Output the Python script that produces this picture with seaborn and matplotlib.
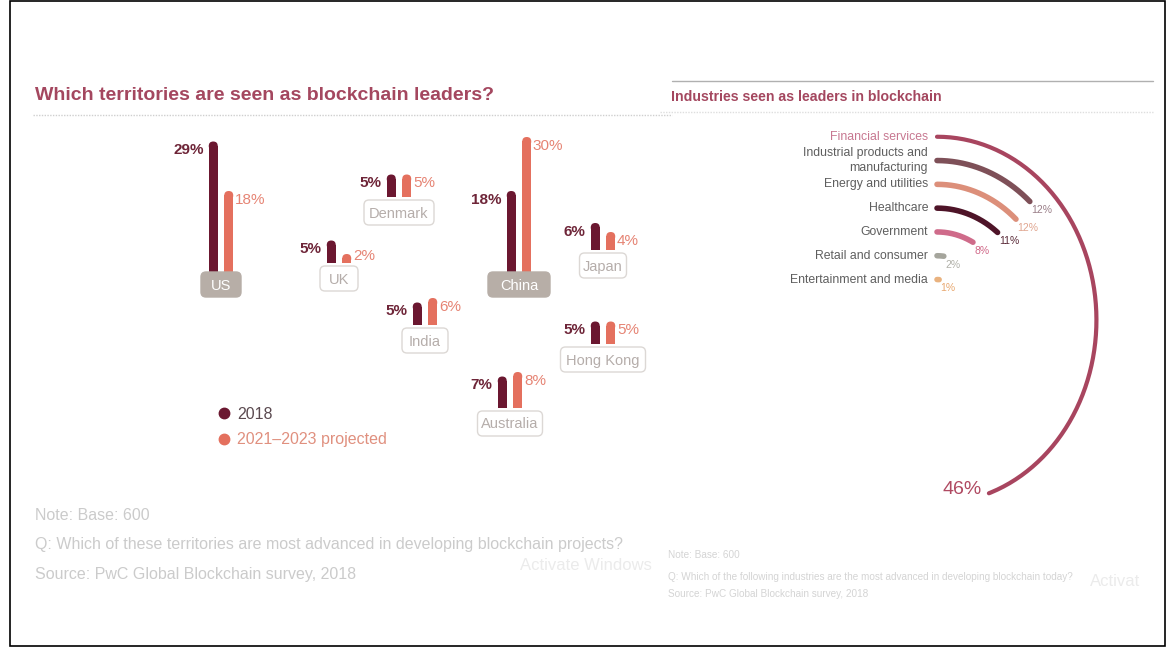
import matplotlib

matplotlib.use("Agg")
import matplotlib.pyplot as plt  # noqa: E402
import numpy as np  # noqa: E402
import pandas as pd  # noqa: E402
import seaborn as sns  # noqa: E402
from matplotlib.lines import Line2D  # noqa: E402
from matplotlib.patches import FancyBboxPatch, Rectangle  # noqa: E402

sns.set_theme(style="white")
plt.rcParams["font.family"] = ["Liberation Sans", "DejaVu Sans"]

# ---- data ---------------------------------------------------------------
territories = ["US", "Denmark", "UK", "China", "Japan", "India", "Hong Kong", "Australia"]
share_2018 = [29, 5, 5, 18, 6, 5, 5, 7]
share_projected = [18, 5, 2, 30, 4, 6, 5, 8]
series_labels = ["2018", "2021\u20132023 projected"]

industries = [
    "Financial services",
    "Industrial products and\nmanufacturing",
    "Energy and utilities",
    "Healthcare",
    "Government",
    "Retail and consumer",
    "Entertainment and media",
]
industry_share = [46, 12, 12, 11, 8, 2, 1]

# ---- layout / style (pixels, y measured from top) -------------------------
W, H = 1167, 648
PX_PER_PCT = 4.5
BAR_STEP = 15.5
BOX_H = 25
# centre x, bar baseline y, box width, filled box
territory_layout = {
    "US": (221, 272, 40, True),
    "Denmark": (399, 197, 70, False),
    "UK": (339, 263, 38, False),
    "China": (519, 272, 62, True),
    "Japan": (603, 250, 47, False),
    "India": (425, 325, 46, False),
    "Hong Kong": (603, 344, 85, False),
    "Australia": (510, 408, 65, False),
}
bar_colors = ["#6b1730", "#e4705e"]
value_colors = ["#6e2538", "#e68474"]
title_color = "#a4475f"

arc_colors = ["#a8455f", "#7e5058", "#dc8f7a", "#4e1428", "#cf6b8a", "#a5a59c", "#e9b27f"]
arc_label_colors = ["#b04a62", "#9a7f88", "#e0a58f", "#5a2a38", "#d06888", "#b0b0a8", "#e8a870"]
ind_text_colors = ["#c77790"] + ["#5e5e5e"] * 6
ARC_CX, ARC_CY = 937, 320
R_UNIT = 23.8
X_SQUASH = 0.87
DEG_PER_PCT = 3.5

fig = plt.figure(figsize=(W / 100, H / 100), dpi=100)

# ---- territory bars ---------------------------------------------------------
aspect = BAR_STEP / PX_PER_PCT
for name, v18, vpr in zip(territories, share_2018, share_projected):
    cx, base, bw, filled = territory_layout[name]
    ax = fig.add_axes([(cx - BAR_STEP) / W, (H - base) / H,
                       2 * BAR_STEP / W, 32 * PX_PER_PCT / H], zorder=1)
    df = pd.DataFrame({"series": series_labels, "share": [v18, vpr]})
    sns.barplot(data=df, x="series", y="share", hue="series", palette=bar_colors,
                width=0.58, errorbar=None, legend=False, saturation=1, ax=ax)
    # rounded tops
    for bar in list(ax.patches):
        x, w, h = bar.get_x(), bar.get_width(), bar.get_height()
        cap = w / 2 * aspect
        bar.set_height(h - cap)
        bar.set_edgecolor("none")
        ax.add_patch(FancyBboxPatch((x, h - 2 * cap), w, 2 * cap,
                                    boxstyle=f"round,pad=0,rounding_size={w / 2}",
                                    mutation_aspect=aspect,
                                    fc=bar.get_facecolor(), ec="none"))
    ax.set_xlim(-0.5, 1.5)
    ax.set_ylim(0, 32)
    ax.axis("off")
    ax.text(-0.62, max(v18 - 1.9, 1.5), f"{v18}%", ha="right", va="center",
            fontsize=11, fontweight="bold", color=value_colors[0])
    ax.text(1.4, max(vpr - 1.9, 1.5), f"{vpr}%", ha="left", va="center",
            fontsize=11, color=value_colors[1])

# ---- industries arcs (polar, slightly squashed like the source) --------------
R_MAX = 210
pax = fig.add_axes([(ARC_CX - R_MAX * X_SQUASH) / W, (H - ARC_CY - R_MAX) / H,
                    2 * R_MAX * X_SQUASH / W, 2 * R_MAX / H],
                   projection="polar", zorder=1)
pax.set_theta_zero_location("N")
pax.set_theta_direction(-1)
ring_r = 7.7 - np.arange(len(industries))
for i, (val, r) in enumerate(zip(industry_share, ring_r)):
    theta = np.linspace(0, np.deg2rad(val * DEG_PER_PCT), 200)
    pax.plot(theta, np.full_like(theta, r), color=arc_colors[i],
             lw=3.0 if i == 0 else 4.0, solid_capstyle="round")
    if i == 0:
        pax.annotate(f"{val}%", xy=(theta[-1], r), xytext=(-5, 3),
                     textcoords="offset points", ha="right", va="center",
                     fontsize=14, color=arc_label_colors[i])
    else:
        pax.annotate(f"{val}%", xy=(theta[-1], r), xytext=(1, -6),
                     textcoords="offset points", ha="left", va="center",
                     fontsize=7.5, color=arc_label_colors[i])
pax.set_rlim(0, R_MAX / R_UNIT)
pax.set_aspect("auto")
pax.axis("off")

# ---- overlay canvas: boxes, titles, notes -----------------------------------
cv = fig.add_axes([0, 0, 1, 1], zorder=3)
cv.set_xlim(0, W)
cv.set_ylim(H, 0)
cv.axis("off")
cv.patch.set_alpha(0)

for name in territories:
    cx, base, bw, filled = territory_layout[name]
    top = base if filled else base + 3
    cv.add_patch(FancyBboxPatch((cx - bw / 2, top), bw, BOX_H,
                                boxstyle="round,pad=0,rounding_size=5",
                                fc="#b7aea7" if filled else "white",
                                ec="#b7aea7" if filled else "#dcd8d5", lw=1))
    cv.text(cx, top + BOX_H / 2 + 1, name, ha="center", va="center", fontsize=10.5,
            color="white" if filled else "#b5adaa")

for i, label in enumerate(industries):
    y = ARC_CY - ring_r[i] * R_UNIT
    cv.text(928, y, label, ha="right", va="center",
            fontsize=8.8, color=ind_text_colors[i], linespacing=1.25)

cv.text(35, 96, "Which territories are seen as blockchain leaders?", fontsize=14,
        fontweight="bold", color=title_color, va="center")
cv.text(671, 97, "Industries seen as leaders in blockchain", fontsize=10.2,
        fontweight="bold", color=title_color, va="center")
cv.plot([33, 672], [115, 115], color="#cfcfcf", lw=1, ls=(0, (1, 1)))
cv.plot([660, 1153], [112, 112], color="#dedede", lw=1, ls=(0, (1, 1)))
cv.plot([672, 1153], [81, 81], color="#b0b0b0", lw=1)

handles = [Line2D([], [], marker="o", ls="", color=c, markersize=7.5) for c in bar_colors]
cv.legend(handles, series_labels, loc="upper left",
          bbox_to_anchor=(208 / W, 1 - 399 / H), frameon=False, fontsize=11.5,
          labelcolor=["#5b4a50", "#e0907f"], handletextpad=0.3,
          handlelength=1.0, labelspacing=0.65, borderpad=0)

notes_left = [
    "Note: Base: 600",
    "Q: Which of these territories are most advanced in developing blockchain projects?",
    "Source: PwC Global Blockchain survey, 2018",
]
for txt, y in zip(notes_left, [516, 545, 575]):
    cv.text(35, y, txt, fontsize=11.5, color="#cbcbcb", va="center")
notes_right = [
    "Note: Base: 600",
    "Q: Which of the following industries are the most advanced in developing blockchain today?",
    "Source: PwC Global Blockchain survey, 2018",
]
for txt, y in zip(notes_right, [555, 577, 594]):
    cv.text(668, y, txt, fontsize=7.2, color="#d4d4d4", va="center")

cv.text(520, 566, "Activate Windows", fontsize=12, color="#ebebeb", va="center")
cv.text(1090, 582, "Activat", fontsize=12, color="#ebebeb", va="center")

cv.add_patch(Rectangle((10, 1), 1155, 645, fill=False, ec="black", lw=1.2))

fig.savefig("out.png", dpi=100)
